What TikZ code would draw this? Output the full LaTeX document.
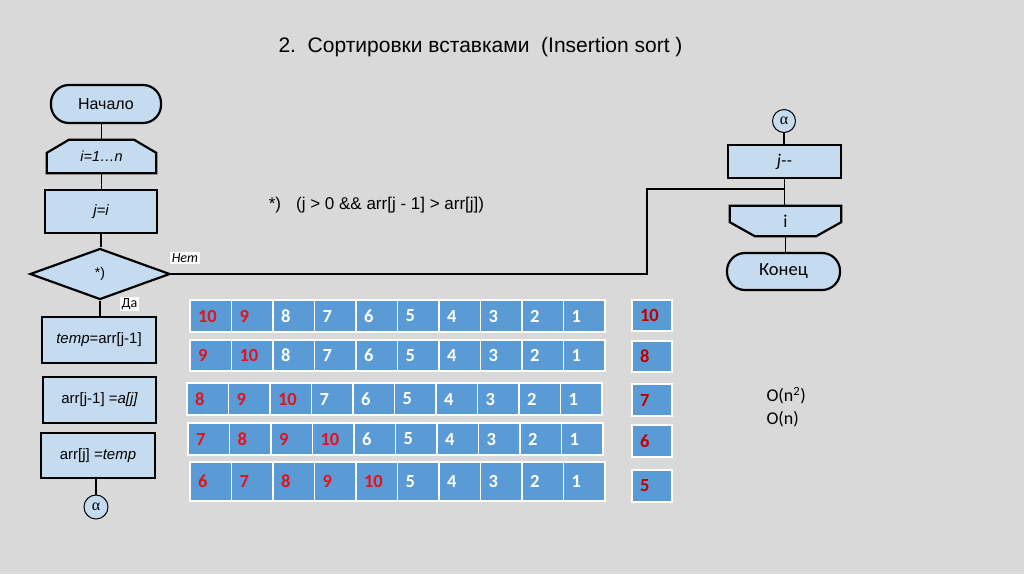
\documentclass[tikz,border=0pt]{standalone}
\usepackage{fontspec}
\setmainfont{Liberation Sans}
\newfontfamily\calfont{Carlito}
\newfontfamily\grkfont{Liberation Serif}
\usepackage{tikz}
\usetikzlibrary{shapes.geometric,calc}
\definecolor{slide}{RGB}{217,217,217}
\definecolor{blk}{RGB}{197,220,240}
\definecolor{cellb}{RGB}{91,155,213}
\definecolor{hot}{RGB}{228,18,28}
\definecolor{deep}{RGB}{192,0,0}
\pgfdeclarelayer{bg}
\pgfsetlayers{bg,main}

\begin{document}
\begin{tikzpicture}[x=1pt,y=-1pt,
  blkbox/.style={rectangle,draw,line width=2.2pt,fill=blk,inner sep=0pt},
  term/.style={blkbox,rounded corners=18pt},
  conn/.style={line width=1.6pt},
  cellbox/.style={rectangle,fill=cellb,draw=white,line width=1.6pt,inner xsep=8pt,inner ysep=0pt,
    text width=25.5pt,align=left,font=\calfont\bfseries\fontsize{18.5}{18.5}\selectfont},
  yesno/.style={fill=white,inner sep=1.5pt,font=\calfont\fontsize{14}{14}\selectfont},
  link/.style={circle,draw,line width=1pt,fill=blk,inner sep=0pt,minimum size=#1,font=\grkfont\fontsize{16}{16}\selectfont}]
  \useasboundingbox (0,0) rectangle (1024,574);
  \begin{pgfonlayer}{bg}
    \fill[slide] (0,0) rectangle (1024,574);
  \end{pgfonlayer}
  \node[font=\fontsize{21}{25}\selectfont] (title) at (480.5,47) {2.\ \ Сортировки вставками\ \ (Insertion sort )};
  \node[font=\fontsize{17}{20}\selectfont] (note) at (376.5,205) {*)\hspace{15pt}(j > 0 \&\& arr[j - 1] > arr[j])};
  % left chart
  \node[term,minimum width=110,minimum height=38,font=\fontsize{16}{16}\selectfont] (start) at (106,104) {Начало};
  \node[inner sep=0pt,minimum width=109,minimum height=33,font=\fontsize{14.5}{14.5}\selectfont\itshape] (loopst) at (101.5,156.5) {i=1…n};
  \node[blkbox,minimum width=112,minimum height=43,font=\fontsize{15}{15}\selectfont\itshape] (jset) at (101,211.5) {j=i};
  \node[blkbox,diamond,minimum width=140,minimum height=51,font=\fontsize{14}{14}\selectfont] (cond) at (100,274) {*)};
  \node[blkbox,minimum width=114,minimum height=46,font=\fontsize{15}{15}\selectfont] (tmp) at (99,340) {{\itshape temp}=arr[j-1]};
  \node[blkbox,minimum width=113,minimum height=46,font=\fontsize{15}{15}\selectfont] (swap) at (99.5,400) {arr[j-1] ={\itshape a[j]}};
  \node[blkbox,minimum width=114,minimum height=45,font=\fontsize{15}{15}\selectfont] (back) at (98,455.5) {arr[j] ={\itshape temp}};
  \node[link=24pt] (alphaL) at (96,507) {α};
  \node[yesno,font=\calfont\itshape\fontsize{14}{14}\selectfont] (no) at (185,258) {Нет};
  \node[yesno] (yes) at (129.5,304) {Да};
  % right chart
  \node[link=23pt] (alphaR) at (784,121) {α};
  \node[blkbox,minimum width=113,minimum height=33,font=\calfont\itshape\fontsize{18}{18}\selectfont] (jdec) at (784.5,161.5) {j-{}-};
  \node[inner sep=0pt,minimum width=111,minimum height=30,font=\calfont\fontsize{18}{18}\selectfont] (loopend) at (785.5,221) {i};
  \node[term,minimum width=113,minimum height=37,font=\calfont\fontsize{18.5}{18.5}\selectfont] (stop) at (783.5,271.5) {Конец};
  \begin{pgfonlayer}{bg}
    \filldraw[fill=blk,line width=2.2pt] (loopst.south west) -- ($(loopst.north west)+(0,13)$) -- ($(loopst.north west)+(22,0)$)
      -- ($(loopst.north east)+(-22,0)$) -- ($(loopst.north east)+(0,13)$) -- (loopst.south east) -- cycle;
    \filldraw[fill=blk,line width=2.2pt] (loopend.north west) -- ($(loopend.south west)+(0,-14)$) -- ($(loopend.south west)+(25,0)$)
      -- ($(loopend.south east)+(-25,0)$) -- ($(loopend.south east)+(0,-14)$) -- (loopend.north east) -- cycle;
  \end{pgfonlayer}
  \draw[conn] (loopst.north |- start.south) -- (loopst.north);
  \draw[conn] (loopst.south) -- (loopst.south |- jset.north);
  \draw[conn] (jset.south) -- (jset.south |- cond.north);
  \draw[conn] (cond.south) -- (cond.south |- tmp.north);
  \draw[conn] (alphaL.north |- back.south) -- (alphaL.north);
  \draw[conn] (alphaR.south) -- (alphaR.south |- jdec.north);
  \draw[conn] (jdec.south) -- (jdec.south |- loopend.north);
  \draw[conn] (loopend.south) -- (loopend.south |- stop.north);
  \coordinate (bendhi) at (647,189);
  \draw[conn] (cond.east) -| (bendhi) -- (bendhi -| jdec.south);
  % arrays
  \foreach \r/\xo/\yt/\h/\nred/\vals in {1/190/300/32/2/{10,9,8,7,6,5,4,3,2,1}, 2/190/340/31/2/{9,10,8,7,6,5,4,3,2,1},
      3/187/383/32/3/{8,9,10,7,6,5,4,3,2,1}, 4/188/423/32/4/{7,8,9,10,6,5,4,3,2,1}, 5/190/462/39/5/{6,7,8,9,10,5,4,3,2,1}} {
    \foreach \v [count=\j from 0] in \vals {
      \ifnum\j<\nred \def\ink{hot}\else\def\ink{white}\fi
      \node[cellbox,text=\ink,minimum height=\h] (cell-\r-\j) at (\xo+\j*41.5+20.75,\yt+\h/2) {\v};
    } }
  \foreach \k/\yc/\h/\v in {1/315.5/31/10, 2/356.5/31/8, 3/400/32/7, 4/441/32/6, 5/486/32/5}
    \node[cellbox,text=deep,minimum height=\h,text width=24pt] (side-\k) at (652,\yc) {\v};
  \node[anchor=west,align=left,font=\calfont\fontsize{18}{23}\selectfont] (cost) at (763,407.5) {O(n\textsuperscript{2})\\O(n)};
\end{tikzpicture}
\end{document}
